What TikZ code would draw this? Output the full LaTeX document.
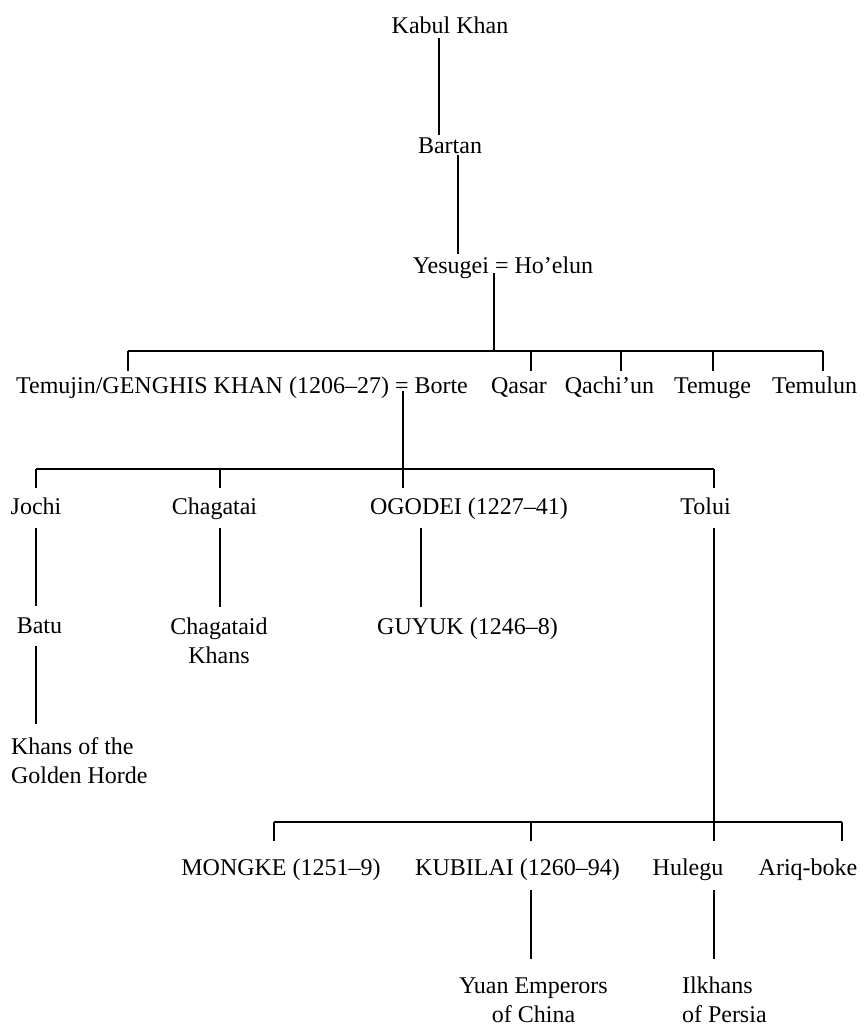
\documentclass[tikz,border=0pt]{standalone}
\usepackage{fontspec}
\setmainfont{Liberation Serif}
\usetikzlibrary{calc}
\begin{document}
\begin{tikzpicture}[x=1pt,y=-1pt,
  lbl/.style={inner sep=0pt, outer sep=0pt, font=\fontsize{24}{29}\selectfont, anchor=base},
  lblL/.style={lbl, align=left, anchor=base west},
  lblC/.style={lbl, align=center},
  ln/.style={line width=1.1pt, draw=black}]
\useasboundingbox (0,0) rectangle (863,1028);

% generation 0-2
\node[lbl] (kabul)  at (450,33)  {Kabul Khan};
\node[lbl] (bartan) at (450,153) {Bartan};
\node[lbl] (yes)    at (503,273) {Yesugei = Ho’elun};

% generation 3
\node[lbl] (tem)     at (242,393)   {Temujin/GENGHIS KHAN (1206–27) = Borte};
\node[lbl] (qasar)   at (519,393)   {Qasar};
\node[lbl] (qachiun) at (609.5,393) {Qachi’un};
\node[lbl] (temuge)  at (712.5,393) {Temuge};
\node[lbl] (temulun) at (814.5,393) {Temulun};

% generation 4
\node[lbl] (jochi)  at (36,514)    {Jochi};
\node[lbl] (chag)   at (214.5,514) {Chagatai};
\node[lbl] (ogodei) at (469,514)   {OGODEI (1227–41)};
\node[lbl] (tolui)  at (705.5,514) {Tolui};

% generation 5 (multi-line nodes: base = last line)
\node[lbl]  (batu)  at (39.5,633)  {Batu};
\node[lblC] (chagk) at (219,663)   {Chagataid\\Khans};
\node[lbl]  (guyuk) at (467.5,634) {GUYUK (1246–8)};
\node[lblL] (golden) at (11,783)   {Khans of the\\Golden Horde};

% Tolui's sons
\node[lbl] (mongke)  at (281,875)   {MONGKE (1251–9)};
\node[lbl] (kubilai) at (517.5,875) {KUBILAI (1260–94)};
\node[lbl] (hulegu)  at (688,875)   {Hulegu};
\node[lbl] (ariq)    at (808,875)   {Ariq-boke};

\node[lblC] (yuan) at (533.5,1022) {Yuan Emperors\\of China};
\node[lblL] (ilk)  at (682,1022)   {Ilkhans\\of Persia};

% connectors
\draw[ln] ($(kabul.base)+(-11,5)$) -- ($(bartan.base)+(-11,-18)$);
\draw[ln] ($(bartan.base)+(8,2)$) -- ($(yes.base)+(-45,-19)$);
\draw[ln] ($(yes.base)+(-9,0)$) -- ($(yes.base)+(-9,78)$);
% bar 1
\draw[ln] ($(tem.base)+(-114,-42)$) -- ($(temulun.base)+(8.5,-42)$);
\draw[ln] ($(tem.base)+(-114,-42)$) -- ($(tem.base)+(-114,-22)$);
\draw[ln] ($(qasar.base)+(12,-42)$) -- ($(qasar.base)+(12,-22)$);
\draw[ln] ($(qachiun.base)+(11.5,-42)$) -- ($(qachiun.base)+(11.5,-22)$);
\draw[ln] ($(temuge.base)+(0.5,-42)$) -- ($(temuge.base)+(0.5,-22)$);
\draw[ln] ($(temulun.base)+(8.5,-42)$) -- ($(temulun.base)+(8.5,-22)$);
% Temujin = Borte to children
\draw[ln] ($(tem.base)+(161,-2)$) -- ($(ogodei.base)+(-66,-26)$);
\draw[ln] ($(jochi.base)+(0,-45)$) -- ($(tolui.base)+(8.5,-45)$);
\draw[ln] ($(jochi.base)+(0,-45)$) -- ($(jochi.base)+(0,-26)$);
\draw[ln] ($(chag.base)+(5.5,-45)$) -- ($(chag.base)+(5.5,-26)$);
\draw[ln] ($(tolui.base)+(8.5,-45)$) -- ($(tolui.base)+(8.5,-26)$);
% generation 5 links
\draw[ln] ($(jochi.base)+(0,14)$) -- ($(batu.base)+(-3.5,-27)$);
\draw[ln] ($(chag.base)+(5.5,14)$) -- ($(chagk.base)+(1,-56)$);
\draw[ln] ($(ogodei.base)+(-48,14)$) -- ($(guyuk.base)+(-46.5,-27)$);
\draw[ln] ($(batu.base)+(-3.5,13)$) -- ($(golden.base west)+(25,-59)$);
% Tolui to his sons
\draw[ln] ($(tolui.base)+(8.5,14)$) -- ($(hulegu.base)+(26,-34)$);
\draw[ln] ($(mongke.base)+(-7,-53)$) -- ($(ariq.base)+(34,-53)$);
\draw[ln] ($(mongke.base)+(-7,-53)$) -- ($(mongke.base)+(-7,-34)$);
\draw[ln] ($(kubilai.base)+(13.5,-53)$) -- ($(kubilai.base)+(13.5,-34)$);
\draw[ln] ($(ariq.base)+(34,-53)$) -- ($(ariq.base)+(34,-34)$);
\draw[ln] ($(kubilai.base)+(13.5,15)$) -- ($(yuan.base)+(-2.5,-63)$);
\draw[ln] ($(hulegu.base)+(26,15)$) -- ($(ilk.base west)+(32,-63)$);
\end{tikzpicture}
\end{document}
